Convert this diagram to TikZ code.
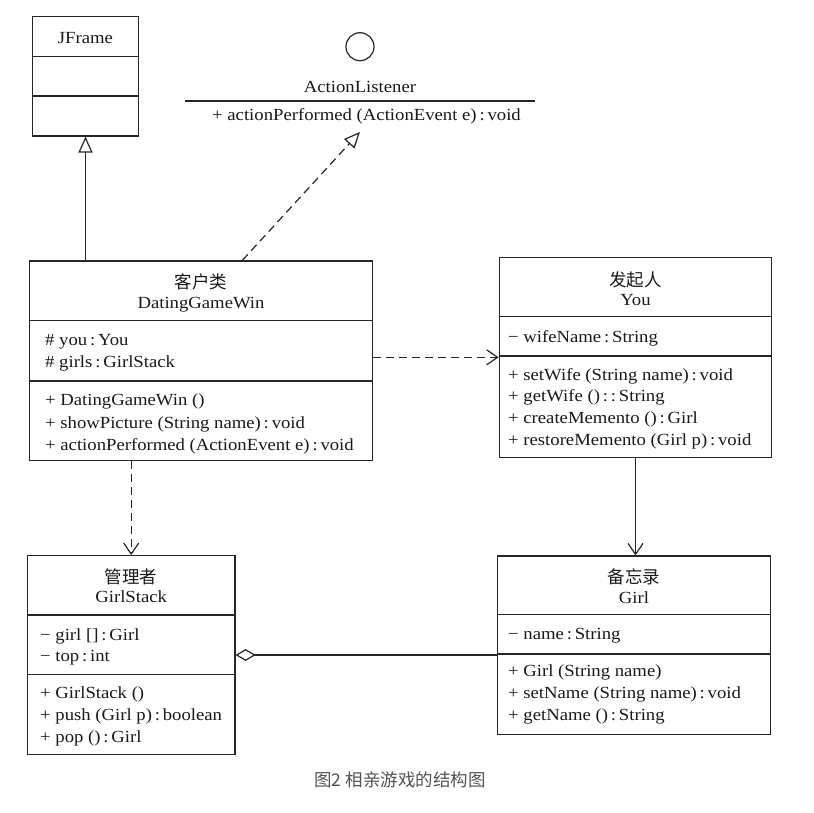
\documentclass[tikz,border=0pt]{standalone}
\usepackage{fontspec}
\setmainfont[FakeStretch=1.1]{Liberation Serif}
\newfontfamily\cjkfont{Noto Sans CJK SC}
\usetikzlibrary{arrows.meta,calc}

\tikzset{
  classbox/.style={draw=black!85, line width=1.2pt, inner sep=0pt},
  divider/.style={draw=black!85, line width=1.2pt},
  member/.style={anchor=west, inner sep=0pt, text height=10pt,
    text depth=0pt, text=black!90, font=\fontsize{17}{20}\selectfont},
  classname/.style={member, anchor=center},
  cjkname/.style={classname, text height=13pt,
    font=\cjkfont\fontsize{17.5}{20}\selectfont},
  conn/.style={draw=black!85, line width=1.2pt},
  gen/.style={conn, -{Triangle[open, length=16pt, width=14pt]}},
  real/.style={conn, dash pattern=on 8pt off 5pt,
    -{Triangle[open, length=16pt, width=14pt]}},
  dep/.style={conn, dash pattern=on 8pt off 5pt,
    -{Straight Barb[length=11pt, width=15pt]}},
  assoc/.style={conn, -{Straight Barb[length=11pt, width=15pt]}},
  aggr/.style={conn, {Diamond[open, length=20pt, width=12pt]}-}
}

\begin{document}
\begin{tikzpicture}[x=1pt, y=-1pt]
\useasboundingbox (0,0) rectangle (814,813);
%
% ---- JFrame ----
\node[classbox, minimum width=105.6pt, minimum height=119.3pt] (jf) at (85.5,76.3) {};
\draw[divider] (jf.west |- 0,56.7) -- (jf.east |- 0,56.7);
\draw[divider] (jf.west |- 0,96) -- (jf.east |- 0,96);
\node[classname] (jfname) at (85.5,39) {JFrame};
%
% ---- ActionListener ----
\node[circle, draw=black!85, line width=1.2pt, minimum size=28pt, inner sep=0pt] (alball) at (360,46.7) {};
\node[classname] (alname) at (360,88) {ActionListener};
\draw[divider] (185,101) -- (535,101);
\node[classname] (alop) at (366.5,116) {+ actionPerformed (ActionEvent e)\,:\,void};
\coordinate (altip) at (360,132);
%
% ---- DatingGameWin ----
\node[classbox, minimum width=343.4pt, minimum height=199.7pt] (dg) at (201,360.8) {};
\draw[divider] (dg.west |- 0,320.7) -- (dg.east |- 0,320.7);
\draw[divider] (dg.west |- 0,381) -- (dg.east |- 0,381);
\node[cjkname] (dgcn) at (201,281.7) {客户类};
\node[classname] (dgname) at (201,303) {DatingGameWin};
\node[member] (dgyou) at (45,340) {\# you\,:\,You};
\node[member] (dggirls) at (45,362) {\# girls\,:\,GirlStack};
\node[member] (dgnew) at (45,400.7) {+ DatingGameWin ()};
\node[member] (dgshow) at (45,423) {+ showPicture (String name)\,:\,void};
\node[member] (dgact) at (45,445.7) {+ actionPerformed (ActionEvent e)\,:\,void};
%
% ---- You ----
\node[classbox, minimum width=272.4pt, minimum height=200pt] (you) at (635.5,357.3) {};
\draw[divider] (you.west |- 0,316.7) -- (you.east |- 0,316.7);
\draw[divider] (you.west |- 0,356) -- (you.east |- 0,356);
\node[cjkname] (youcn) at (635.5,280) {发起人};
\node[classname] (youname) at (635.5,300) {You};
\node[member] (youwife) at (508,337.7) {− wifeName\,:\,String};
\node[member] (youset) at (508,375) {+ setWife (String name)\,:\,void};
\node[member] (youget) at (508,396.7) {+ getWife ()\,:\,:\,String};
\node[member] (youcreate) at (508,418) {+ createMemento ()\,:\,Girl};
\node[member] (yourestore) at (508,440.7) {+ restoreMemento (Girl p)\,:\,void};
%
% ---- GirlStack ----
\node[classbox, minimum width=207.7pt, minimum height=198.6pt] (gs) at (131.2,655) {};
\draw[divider] (gs.west |- 0,615) -- (gs.east |- 0,615);
\draw[divider] (gs.west |- 0,674.3) -- (gs.east |- 0,674.3);
\node[cjkname] (gscn) at (131.2,576.7) {管理者};
\node[classname] (gsname) at (131.2,597.7) {GirlStack};
\node[member] (gsgirl) at (40,635) {− girl []\,:\,Girl};
\node[member] (gstop) at (40,656.7) {− top\,:\,int};
\node[member] (gsnew) at (40,693) {+ GirlStack ()};
\node[member] (gspush) at (40,715) {+ push (Girl p)\,:\,boolean};
\node[member] (gspop) at (40,737.7) {+ pop ()\,:\,Girl};
%
% ---- Girl ----
\node[classbox, minimum width=273.4pt, minimum height=178.3pt] (girl) at (634,645.2) {};
\draw[divider] (girl.west |- 0,614.3) -- (girl.east |- 0,614.3);
\draw[divider] (girl.west |- 0,654) -- (girl.east |- 0,654);
\node[cjkname] (girlcn) at (634,577.3) {备忘录};
\node[classname] (girlname) at (634,598.3) {Girl};
\node[member] (girlfield) at (508,634) {− name\,:\,String};
\node[member] (girlnew) at (508,671.7) {+ Girl (String name)};
\node[member] (girlset) at (508,693.3) {+ setName (String name)\,:\,void};
\node[member] (girlget) at (508,715) {+ getName ()\,:\,String};
%
% ---- Relations ----
\draw[gen] (jf.south |- dg.north) -- (jf.south);
\draw[real] ($(dg.north west)!0.62!(dg.north east)$) -- (altip);
\draw[dep] (you.west -| dg.east) -- (you.west);
\draw[dep] (gs.north |- dg.south) -- (gs.north);
\draw[assoc] (you.south) -- (you.south |- girl.north);
\draw[aggr] (gs.east) -- (gs.east -| girl.west);
%
% ---- Caption ----
\node[font=\cjkfont\fontsize{17.5}{20}\selectfont, text=black!68] (caption) at (400,780) {图2 相亲游戏的结构图};
\end{tikzpicture}
\end{document}
